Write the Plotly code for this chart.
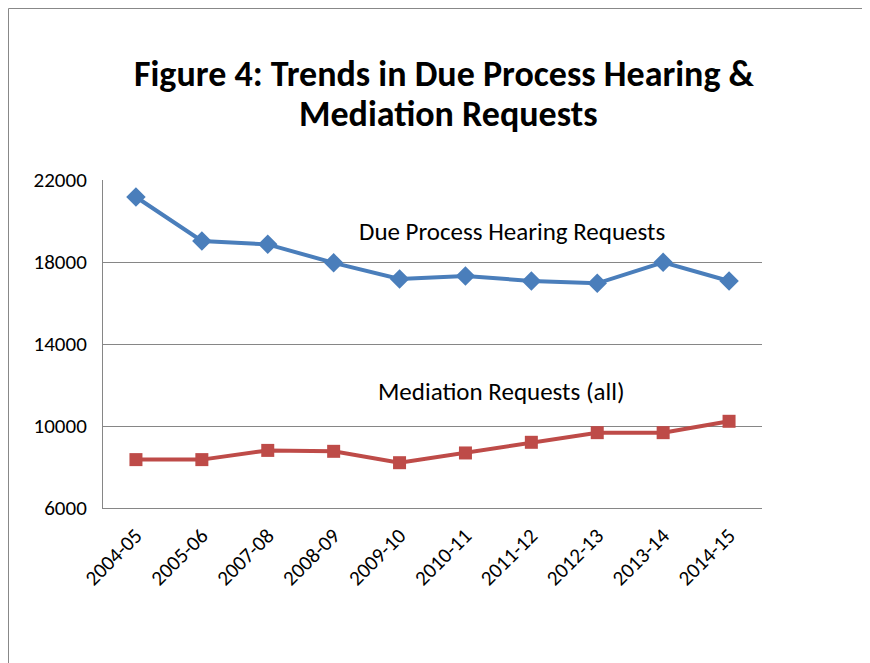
import plotly.graph_objects as go

years = ["2004-05", "2005-06", "2007-08", "2008-09", "2009-10",
         "2010-11", "2011-12", "2012-13", "2013-14", "2014-15"]
due_process = [21170, 19025, 18860, 17960, 17175, 17320, 17075, 16960, 17985, 17075]
mediation = [8360, 8360, 8810, 8765, 8210, 8685, 9205, 9675, 9675, 10230]
y_ticks = [6000, 10000, 14000, 18000, 22000]

FONT = "Carlito, Calibri, Lato, 'Liberation Sans', sans-serif"

# plot area in figure pixels (page is offset by the 8px body margin)
L, R, T, B = 95, 116, 172, 163
PW, PH = 870 - L - R, 663 - T - B


def py(fy):
    """figure pixel row (from top) -> paper y"""
    return (T + PH - fy) / PH


fig = go.Figure()
fig.add_trace(go.Scatter(
    x=list(range(len(years))), y=due_process, mode="lines+markers",
    name="Due Process Hearing Requests",
    line=dict(color="#4A7EBB", width=4),
    marker=dict(symbol="diamond", size=15, color="#4A7EBB"),
))
fig.add_trace(go.Scatter(
    x=list(range(len(years))), y=mediation, mode="lines+markers",
    name="Mediation Requests (all)",
    line=dict(color="#BE4B48", width=4),
    marker=dict(symbol="square", size=13, color="#BE4B48"),
))

title_x = (436 - L) / PW
fig.update_layout(
    width=870, height=663,
    margin=dict(l=L, r=R, t=T, b=B),
    paper_bgcolor="white", plot_bgcolor="white",
    showlegend=False,
    font=dict(family=FONT, color="black", size=21),
    xaxis=dict(
        tickmode="array", tickvals=list(range(len(years))), ticktext=years,
        range=[-0.5, len(years) - 0.5], tickangle=-45,
        showgrid=False, showline=True, linecolor="#868686", linewidth=1,
        ticks="", zeroline=False, tickfont=dict(size=21),
        ticklabelstandoff=6,
    ),
    yaxis=dict(
        range=[6000, 22000], tickvals=y_ticks, ticktext=[str(v) for v in y_ticks],
        showgrid=True, gridcolor="#868686", gridwidth=1,
        showline=True, linecolor="#868686", linewidth=1,
        ticks="", zeroline=False, tickfont=dict(size=21),
        ticklabelstandoff=11,
    ),
    annotations=[
        dict(text="<b>Figure 4: Trends in Due Process Hearing &</b>",
             x=title_x, y=py(66),
             xref="paper", yref="paper", showarrow=False,
             font=dict(size=36), xanchor="center", yanchor="middle"),
        dict(text="<b>Mediation Requests</b>",
             x=title_x + 4 / PW, y=py(106),
             xref="paper", yref="paper", showarrow=False,
             font=dict(size=36), xanchor="center", yanchor="middle"),
        dict(text="Due Process Hearing Requests", x=5.70, y=19500,
             xref="x", yref="y", showarrow=False, font=dict(size=25)),
        dict(text="Mediation Requests (all)", x=5.55, y=11680,
             xref="x", yref="y", showarrow=False, font=dict(size=25)),
    ],
    shapes=[
        dict(type="rect", xref="paper", yref="paper",
             x0=(0.5 - L) / PW, x1=1.3, y0=-0.6, y1=py(0.5),
             line=dict(color="#888888", width=1), fillcolor="rgba(0,0,0,0)",
             layer="below"),
    ],
)

fig.write_html("out.html")
